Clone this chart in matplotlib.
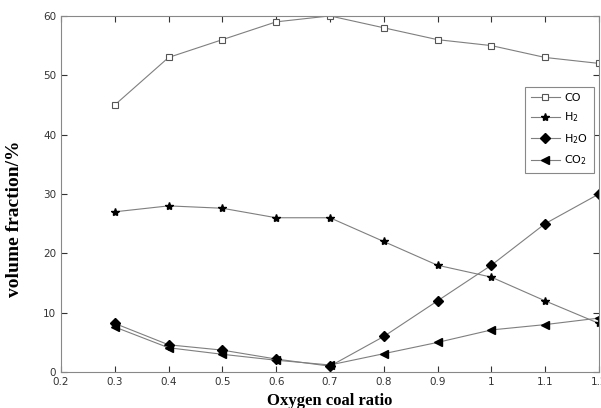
import numpy as np
import matplotlib
matplotlib.use("Agg")
import matplotlib.pyplot as plt

ratio = [0.3, 0.4, 0.5, 0.6, 0.7, 0.8, 0.9, 1.0, 1.1, 1.2]
co = [45, 53, 56, 59, 60, 58, 56, 55, 53, 52]
h2 = [27, 28, 27.6, 26, 26, 22, 18, 16, 12, 8.2]
h2o = [8.2, 4.6, 3.7, 2.2, 1.0, 6, 12, 18, 25, 30]
co2 = [7.6, 4.1, 3.0, 2.0, 1.2, 3.1, 5, 7.1, 8, 9.1]

fig = plt.figure(figsize=(6.01, 4.08), dpi=100)
ax = fig.add_axes([0.1015, 0.088, 0.895, 0.873])

lc = "#7f7f7f"
ax.plot(ratio, co, color=lc, lw=0.8, marker="s", ms=4.5, mfc="white", mec="#555555", mew=0.8, label="CO")
ax.plot(ratio, h2, color=lc, lw=0.8, marker="*", ms=6, mfc="black", mec="black", label="H$_2$")
ax.plot(ratio, h2o, color=lc, lw=0.8, marker="D", ms=5.5, mfc="black", mec="black", label="H$_2$O")
ax.plot(ratio, co2, color=lc, lw=0.8, marker="<", ms=6, mfc="black", mec="black", label="CO$_2$")

ax.set_xlim(0.2, 1.2)
ax.set_ylim(0, 60)
ax.set_xticks(np.arange(0.2, 1.21, 0.1))
ax.set_xticklabels(["0.2", "0.3", "0.4", "0.5", "0.6", "0.7", "0.8", "0.9", "1", "1.1", "1.2"])
ax.set_yticks(range(0, 61, 10))
ax.tick_params(direction="in", top=True, right=True, labelsize=7.5, colors="#333333", length=4)
for s in ax.spines.values():
    s.set_color("#888888")

ax.set_xlabel("Oxygen coal ratio", fontsize=12, fontweight="bold", family="Liberation Serif")
ax.xaxis.set_label_coords(0.5, -0.058)
ax.set_ylabel("volume fraction/%", fontsize=14, fontweight="bold", family="Liberation Serif")
ax.yaxis.set_label_coords(-0.071, 0.43)

leg = ax.legend(loc="upper right", bbox_to_anchor=(0.99, 0.80), fontsize=8, fancybox=False,
                edgecolor="#888888", framealpha=1, handlelength=2.6, borderpad=0.5,
                labelspacing=0.7, handletextpad=0.4, borderaxespad=0)
leg.get_frame().set_linewidth(0.8)

fig.savefig("out.png", dpi=100)
